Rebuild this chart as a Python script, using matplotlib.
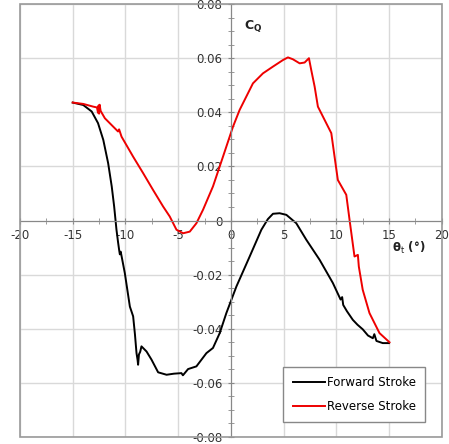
import matplotlib
matplotlib.use('Agg')
from matplotlib import pyplot as plt
from matplotlib.patches import Rectangle
from matplotlib.ticker import MultipleLocator

# Forward stroke (black)
fwd_theta = [-15.0, -14.0, -13.2, -12.6, -12.1, -11.64, -11.3, -11.07, -10.85, -10.7,
             -10.6, -10.53, -10.45, -10.35, -10.06, -9.58, -9.27, -9.1, -8.95, -8.85,
             -8.8, -8.72, -8.6, -8.48, -8.0, -7.53, -6.9, -6.1, -5.4, -4.69,
             -4.55, -4.06, -3.27, -2.32, -1.7, -1.06, -0.43, 0.52, 1.78, 2.89,
             3.5, 3.99, 4.62, 5.26, 6.2, 7.15, 8.41, 9.67, 10.4, 10.55,
             10.65, 11.0, 11.56, 12.0, 12.5, 13.0, 13.46, 13.6, 13.8, 14.4, 15.0]
fwd_cq = [0.0436, 0.0427, 0.0403, 0.036, 0.0298, 0.0212, 0.0126, 0.0052, -0.0034, -0.008,
          -0.0108, -0.0125, -0.0115, -0.0135, -0.0194, -0.0318, -0.0354, -0.042, -0.049, -0.0515,
          -0.0533, -0.0495, -0.0485, -0.0465, -0.0484, -0.0514, -0.0561, -0.057, -0.0566, -0.0564,
          -0.0572, -0.0549, -0.0539, -0.049, -0.0471, -0.0416, -0.0342, -0.0244, -0.0133, -0.0034,
          0.0005, 0.0025, 0.0027, 0.0021, -0.001, -0.0071, -0.0145, -0.0231, -0.0292, -0.0283,
          -0.0312, -0.0335, -0.0367, -0.0385, -0.0402, -0.0425, -0.0435, -0.042, -0.0445, -0.0453, -0.0453]

# Reverse stroke (red)
rev_theta = [-15.0, -14.0, -13.06, -12.7, -12.6, -12.55, -12.5, -12.45, -12.35, -11.95,
             -11.16, -10.7, -10.6, -10.37, -9.27, -8.32, -7.38, -6.43, -5.8, -5.16,
             -4.53, -3.9, -3.27, -2.64, -1.7, -0.75, 0.2, 0.83, 2.09, 3.04,
             3.99, 4.93, 5.41, 5.88, 6.52, 6.99, 7.4, 7.62, 7.94, 8.25,
             9.04, 9.52, 9.83, 10.14, 10.94, 11.25, 11.72, 12.04, 12.13, 12.5,
             13.14, 14.09, 15.04]
rev_cq = [0.0436, 0.0431, 0.0421, 0.0418, 0.0398, 0.0425, 0.0395, 0.0428, 0.0405, 0.0378,
          0.0347, 0.0329, 0.0337, 0.031, 0.0236, 0.0175, 0.0113, 0.0052, 0.0015, -0.0034,
          -0.0047, -0.0041, -0.001, 0.004, 0.0126, 0.0236, 0.0347, 0.0409, 0.0507, 0.0544,
          0.0569, 0.0593, 0.0603, 0.0596, 0.0581, 0.0584, 0.06, 0.0556, 0.0495, 0.0421,
          0.036, 0.0323, 0.0236, 0.015, 0.0095, 0.0003, -0.0133, -0.0127, -0.017, -0.0256,
          -0.0342, -0.0416, -0.045]

fig = plt.figure(figsize=(4.49, 4.44), dpi=100)
ax = fig.add_axes([0.0445, 0.0158, 0.9395, 0.975])

ax.plot(fwd_theta, fwd_cq, color='black', linewidth=1.4, label='Forward Stroke')
ax.plot(rev_theta, rev_cq, color='#ee0000', linewidth=1.4, label='Reverse Stroke')

ax.set_xlim(-20, 20)
ax.set_ylim(-0.08, 0.08)
ax.xaxis.set_major_locator(MultipleLocator(5))
ax.xaxis.set_minor_locator(MultipleLocator(2.5))
ax.yaxis.set_major_locator(MultipleLocator(0.02))
ax.yaxis.set_minor_locator(MultipleLocator(0.005))
ax.grid(True, which='major', color='#d9d9d9', linewidth=1.0)
ax.set_axisbelow(True)

for side in ['top', 'right']:
  ax.spines[side].set_visible(False)
ax.spines['left'].set_position(('data', 0))
ax.spines['bottom'].set_position(('data', 0))
ax.spines['left'].set_color('#888888')
ax.spines['bottom'].set_color('#888888')

ax.tick_params(which='both', direction='inout', color='#888888', labelsize=8.5,
               labelcolor='#333333')
ax.tick_params(which='major', length=5)
ax.tick_params(which='minor', length=4)

ax.set_xticks(range(-20, 25, 5))
ax.set_xticklabels(['-20', '-15', '-10', '-5', '0', '5', '10', '15', '20'])
yt = [-0.08, -0.06, -0.04, -0.02, 0, 0.02, 0.04, 0.06, 0.08]
ax.set_yticks(yt)
ax.set_yticklabels(['-0.08', '-0.06', '-0.04', '-0.02', '0', '0.02', '0.04', '0.06', '0.08'])

frame = Rectangle((0, 0), 1, 1, transform=ax.transAxes, fill=False,
                  edgecolor='#999999', linewidth=1.2, clip_on=False, zorder=5)
ax.add_patch(frame)

ax.text(1.2, 0.071, r'$\mathbf{C}_{\mathbf{Q}}$', fontsize=9, color='#222222')
ax.text(15.3, -0.0115, r'$\mathbf{\theta}_{\mathrm{t}}$ (°)', fontsize=8.5,
        color='#222222', fontweight='bold')

leg = ax.legend(loc='lower right', bbox_to_anchor=(0.975, 0.02), fontsize=8.5,
                fancybox=False, framealpha=1, edgecolor='#888888',
                handlelength=2.7, borderpad=0.8, labelspacing=0.9, handletextpad=0.2)
leg.get_frame().set_linewidth(1.0)

fig.savefig('out.png', dpi=100)
